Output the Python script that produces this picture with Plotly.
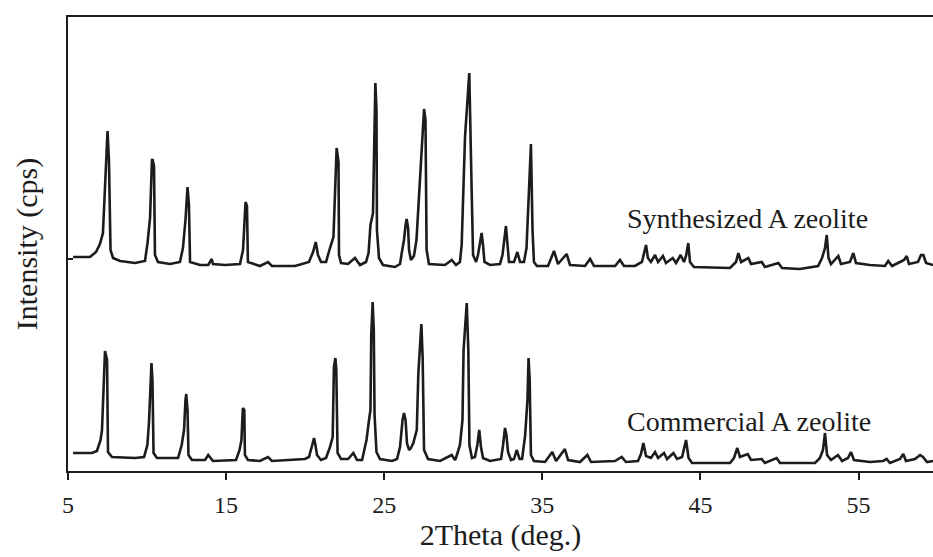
import plotly.graph_objects as go

# X-ray diffraction patterns, 2Theta (deg.) vs. intensity (arbitrary cps units)
# Synthesized A zeolite (plotted with its own baseline offset above the commercial one)
synth_2theta = [
    5.32, 6.39, 6.77, 7.02, 7.21, 7.34, 7.50, 7.59, 7.69, 7.85, 8.29, 9.24, 9.87,
    10.03, 10.19, 10.31, 10.34, 10.44, 10.50, 10.69, 11.45, 12.08, 12.27, 12.43,
    12.56, 12.65, 12.72, 13.35, 13.87, 14.09, 14.17, 14.93, 15.88, 16.07, 16.23,
    16.32, 16.38, 17.14, 17.65, 17.90, 19.36, 20.24, 20.50, 20.67, 20.81, 21.00,
    21.32, 21.57, 21.79, 21.99, 22.11, 22.14, 22.27, 22.71, 23.15, 23.47, 23.85,
    24.01, 24.13, 24.29, 24.39, 24.44, 24.51, 24.54, 24.67, 24.92, 25.68, 26.00,
    26.11, 26.25, 26.35, 26.42, 26.51, 26.57, 26.69, 26.88, 27.04, 27.20, 27.36,
    27.52, 27.61, 27.68, 27.83, 28.84, 29.27, 29.54, 29.79, 29.90, 30.11, 30.38,
    30.53, 30.62, 30.81, 30.93, 31.09, 31.16, 31.25, 31.34, 31.69, 32.32, 32.48,
    32.64, 32.70, 32.80, 32.89, 33.21, 33.42, 33.59, 33.84, 34.00, 34.11, 34.28,
    34.38, 34.47, 34.66, 35.36, 35.74, 35.99, 36.54, 36.75, 37.70, 38.02, 38.27,
    39.60, 39.91, 40.17, 40.86, 41.30, 41.56, 41.68, 41.87, 42.13, 42.32, 42.63,
    42.82, 43.25, 43.46, 43.75, 43.96, 44.09, 44.23, 44.34, 44.59, 46.87, 47.25,
    47.40, 47.57, 48.03, 48.20, 48.88, 49.08, 49.93, 50.16, 51.29, 52.44, 52.69,
    52.88, 52.99, 53.10, 53.26, 53.72, 53.89, 54.46, 54.67, 54.84, 55.73, 56.67,
    56.88, 57.12, 57.88, 58.05, 58.19, 58.76, 58.95, 59.10, 59.27, 59.71,
]
synth_intensity = [
    214, 214, 219, 227, 238, 278, 340, 311, 221, 213, 210, 208, 210,
    228, 253, 311, 312, 305, 216, 209, 207, 209, 223, 251,
    284, 266, 209, 206, 206, 212, 207, 206, 207, 221, 269,
    265, 209, 205, 209, 205, 205, 209, 219, 229, 216, 209,
    209, 223, 234, 323, 309, 216, 208, 207, 213, 206, 209,
    218, 246, 258, 371, 388, 361, 241, 213, 206, 204, 207,
    218, 231, 246, 252, 243, 221, 211, 215, 231, 271, 311,
    362, 351, 221, 207, 206, 211, 206, 209, 226, 334, 398,
    281, 216, 209, 216, 231, 238, 226, 209, 206, 207, 216,
    236, 245, 226, 209, 209, 219, 209, 209, 223, 268, 327,
    241, 209, 205, 205, 220, 207, 217, 206, 205, 212, 205,
    205, 211, 205, 205, 209, 226, 213, 209, 216, 209, 215,
    208, 213, 208, 216, 209, 215, 228, 209, 204, 203, 209,
    218, 209, 213, 207, 209, 204, 208, 203, 202, 205, 213,
    223, 236, 213, 207, 215, 207, 209, 218, 208, 206, 205,
    210, 205, 211, 215, 207, 209, 216, 216, 208, 206,
]

# Commercial A zeolite
comm_2theta = [
    5.32, 6.52, 6.83, 7.06, 7.15, 7.21, 7.34, 7.47, 7.53, 7.78, 9.24, 9.81,
    10.02, 10.12, 10.22, 10.28, 10.34, 10.41, 10.63, 11.96, 12.19, 12.34, 12.43,
    12.48, 12.56, 12.62, 12.84, 13.67, 13.87, 14.17, 15.63, 15.85, 15.97, 16.06,
    16.15, 16.19, 16.38, 17.14, 17.65, 17.90, 19.99, 20.24, 20.43, 20.56, 20.65,
    20.75, 21.00, 21.32, 21.57, 21.74, 21.82, 21.91, 21.97, 22.05, 22.27, 22.71,
    23.05, 23.28, 23.60, 23.88, 24.04, 24.13, 24.18, 24.27, 24.34, 24.39, 24.51,
    24.73, 25.49, 25.81, 26.00, 26.16, 26.25, 26.35, 26.44, 26.57, 26.69, 26.84,
    27.06, 27.16, 27.35, 27.43, 27.52, 27.77, 28.53, 29.27, 29.48, 29.54, 29.79,
    29.95, 30.02, 30.22, 30.32, 30.39, 30.55, 30.74, 30.89, 31.01, 31.12, 31.25,
    31.69, 32.39, 32.51, 32.64, 32.73, 32.83, 33.02, 33.21, 33.38, 33.56, 33.72,
    33.91, 34.06, 34.13, 34.20, 34.28, 34.47, 35.17, 35.63, 35.87, 36.43, 36.63,
    37.38, 37.85, 38.08, 39.60, 40.02, 40.29, 41.05, 41.24, 41.39, 41.56, 41.87,
    42.13, 42.32, 42.70, 42.89, 43.29, 43.52, 43.84, 44.09, 44.25, 44.47, 46.87,
    47.12, 47.33, 47.50, 47.99, 48.20, 48.88, 49.08, 49.82, 50.03, 52.25, 52.56,
    52.75, 52.88, 53.01, 53.26, 53.70, 53.96, 54.33, 54.52, 54.71, 55.73, 56.55,
    56.78, 56.99, 57.62, 57.83, 58.00, 58.57, 58.89, 59.08, 59.33, 59.71,
]
comm_intensity = [
    18, 18, 20, 31, 41, 64, 120, 111, 19, 14, 13, 14,
    26, 48, 101, 108, 91, 18, 13, 13, 26, 41, 71,
    77, 61, 16, 11, 11, 16, 10, 11, 21, 31, 63,
    61, 16, 11, 10, 14, 10, 12, 14, 25, 33, 26,
    16, 11, 13, 24, 34, 104, 113, 101, 18, 12, 12,
    18, 11, 11, 31, 51, 61, 136, 169, 141, 56, 19,
    12, 10, 12, 24, 51, 58, 51, 28, 21, 23, 28,
    41, 98, 147, 114, 21, 12, 10, 16, 11, 13, 26,
    51, 121, 168, 121, 26, 13, 14, 26, 41, 24, 13,
    10, 12, 25, 43, 36, 19, 11, 12, 21, 12, 12,
    35, 71, 113, 91, 16, 10, 9, 19, 10, 22, 11,
    9, 16, 9, 10, 14, 9, 10, 17, 28, 15, 13,
    19, 13, 18, 12, 18, 12, 14, 31, 13, 8, 8,
    13, 23, 14, 17, 11, 12, 8, 13, 8, 8, 13,
    21, 38, 16, 11, 16, 10, 13, 19, 11, 9, 10,
    12, 8, 12, 17, 10, 12, 16, 14, 9, 10,
]

x_ticks = [5, 15, 25, 35, 45, 55]
y_ticks = [212]

FONT = "Liberation Serif, Times New Roman, serif"
INK = "#1c1c1c"

fig = go.Figure()
for xs, ys, name in [
    (synth_2theta, synth_intensity, "Synthesized A zeolite"),
    (comm_2theta, comm_intensity, "Commercial A zeolite"),
]:
    fig.add_trace(go.Scatter(
        x=xs, y=ys, mode="lines", name=name,
        line=dict(color=INK, width=2.6),
        showlegend=False,
    ))

fig.add_annotation(x=48.0, y=253, text="Synthesized A zeolite", showarrow=False,
                   font=dict(family=FONT, size=28, color=INK),
                   xanchor="center", yanchor="middle")
fig.add_annotation(x=48.05, y=50, text="Commercial A zeolite", showarrow=False,
                   font=dict(family=FONT, size=28, color=INK),
                   xanchor="center", yanchor="middle")

fig.update_layout(
    width=933, height=557,
    margin=dict(l=68, r=0, t=17, b=86),
    paper_bgcolor="white", plot_bgcolor="white",
    font=dict(family=FONT, color=INK),
)
fig.update_xaxes(
    range=[5, 59.71], tickvals=x_ticks, ticktext=[str(v) for v in x_ticks],
    ticks="outside", ticklen=7, tickwidth=2, tickcolor=INK,
    showline=True, linewidth=2, linecolor=INK, mirror=True,
    showgrid=False, zeroline=False,
    tickfont=dict(family=FONT, size=24, color=INK), ticklabelstandoff=4,
    title=dict(text="2Theta (deg.)", font=dict(family=FONT, size=30, color=INK), standoff=7),
)
fig.update_yaxes(
    range=[0, 454], tickvals=y_ticks, showticklabels=False,
    ticks="inside", ticklen=5, tickwidth=2, tickcolor=INK,
    showline=True, linewidth=2, linecolor=INK,
    showgrid=False, zeroline=False,
    title=dict(text="Intensity (cps)", font=dict(family=FONT, size=30, color=INK), standoff=20),
)

fig.write_html("out.html")
